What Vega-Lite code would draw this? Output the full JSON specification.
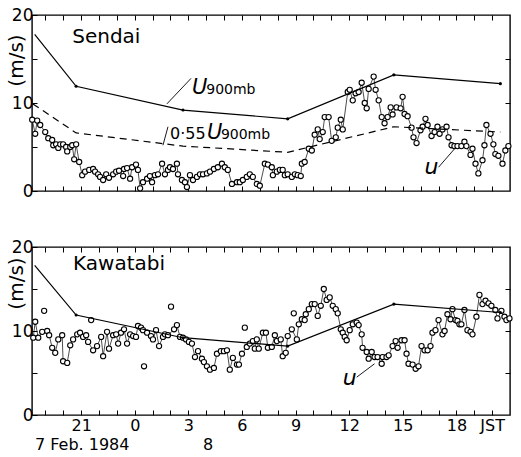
{
  "$schema": "https://vega.github.io/schema/vega-lite/v6.json",
  "background": "white",
  "padding": {"left": 5, "top": 5, "right": 5, "bottom": 5},
  "bounds": "flush",
  "spacing": 56,
  "config": {
    "font": "DejaVu Sans",
    "view": {"stroke": "black", "strokeWidth": 1.4},
    "axis": {"domain": false, "grid": false, "tickColor": "black", "tickWidth": 1, "labelColor": "black", "labelFont": "DejaVu Sans", "titleFont": "DejaVu Sans", "titleColor": "black", "titleFontWeight": "normal"}
  },
  "datasets": {
    "u900": [
      {"t": 18.4, "u": 17.8}, {"t": 20.72, "u": 11.9}, {"t": 26.7, "u": 9.2}, {"t": 32.56, "u": 8.2}, {"t": 38.5, "u": 13.2}, {"t": 44.46, "u": 12.2}
    ],
    "u055": [
      {"t": 18.3, "u": 9.9}, {"t": 20.72, "u": 6.6}, {"t": 26.7, "u": 5.1}, {"t": 32.56, "u": 4.4}, {"t": 38.5, "u": 7.3}, {"t": 44.46, "u": 6.7}
    ],
    "sendai": [
      {"t": 18.26, "u": 8.1}, {"t": 18.43, "u": 6.5}, {"t": 18.54, "u": 8.0}, {"t": 18.71, "u": 7.5}, {"t": 18.99, "u": 6.7},
      {"t": 19.16, "u": 6.0}, {"t": 19.38, "u": 5.8}, {"t": 19.44, "u": 5.2}, {"t": 19.6, "u": 5.3}, {"t": 19.72, "u": 4.9},
      {"t": 19.83, "u": 5.3}, {"t": 19.99, "u": 5.3}, {"t": 20.16, "u": 5.0}, {"t": 20.22, "u": 4.5}, {"t": 20.39, "u": 5.0},
      {"t": 20.5, "u": 5.2}, {"t": 20.61, "u": 3.6}, {"t": 20.72, "u": 5.3}, {"t": 20.89, "u": 3.3}, {"t": 21.06, "u": 1.8},
      {"t": 21.22, "u": 2.2}, {"t": 21.45, "u": 2.4}, {"t": 21.67, "u": 2.5}, {"t": 21.78, "u": 2.2}, {"t": 21.95, "u": 1.9},
      {"t": 22.06, "u": 1.6}, {"t": 22.23, "u": 1.25}, {"t": 22.4, "u": 1.9}, {"t": 22.56, "u": 1.5}, {"t": 22.79, "u": 1.9},
      {"t": 22.96, "u": 2.2}, {"t": 23.12, "u": 2.3}, {"t": 23.35, "u": 1.7}, {"t": 23.4, "u": 2.5}, {"t": 23.57, "u": 2.6},
      {"t": 23.74, "u": 1.4}, {"t": 23.85, "u": 2.7}, {"t": 24.07, "u": 3.0}, {"t": 24.18, "u": 2.4}, {"t": 24.3, "u": 0.3},
      {"t": 24.46, "u": 1.0}, {"t": 24.69, "u": 1.4}, {"t": 24.85, "u": 1.7}, {"t": 24.97, "u": 1.0}, {"t": 25.13, "u": 1.8},
      {"t": 25.3, "u": 1.9}, {"t": 25.53, "u": 3.1}, {"t": 25.69, "u": 1.9}, {"t": 25.86, "u": 2.4}, {"t": 25.97, "u": 2.7},
      {"t": 26.14, "u": 2.5}, {"t": 26.36, "u": 3.1}, {"t": 26.42, "u": 1.9}, {"t": 26.64, "u": 1.25}, {"t": 26.81, "u": 1.0},
      {"t": 26.92, "u": 0.45}, {"t": 27.09, "u": 1.8}, {"t": 27.26, "u": 1.25}, {"t": 27.48, "u": 1.6}, {"t": 27.65, "u": 1.9},
      {"t": 27.82, "u": 1.9}, {"t": 28.04, "u": 2.0}, {"t": 28.21, "u": 2.2}, {"t": 28.43, "u": 2.5}, {"t": 28.65, "u": 2.7},
      {"t": 28.88, "u": 3.1}, {"t": 29.04, "u": 2.7}, {"t": 29.21, "u": 2.4}, {"t": 29.44, "u": 0.8}, {"t": 29.72, "u": 1.0},
      {"t": 29.88, "u": 1.0}, {"t": 30.05, "u": 1.25}, {"t": 30.27, "u": 1.6}, {"t": 30.44, "u": 1.9}, {"t": 30.61, "u": 1.6},
      {"t": 30.83, "u": 0.8}, {"t": 31.0, "u": 0.6}, {"t": 31.28, "u": 3.1}, {"t": 31.45, "u": 3.0}, {"t": 31.67, "u": 2.7},
      {"t": 31.73, "u": 1.8}, {"t": 31.95, "u": 2.2}, {"t": 32.12, "u": 2.4}, {"t": 32.28, "u": 2.4}, {"t": 32.4, "u": 1.8},
      {"t": 32.56, "u": 1.9}, {"t": 32.79, "u": 1.6}, {"t": 32.96, "u": 1.9}, {"t": 33.12, "u": 1.8}, {"t": 33.29, "u": 1.7},
      {"t": 33.35, "u": 3.1}, {"t": 33.51, "u": 3.3}, {"t": 33.74, "u": 4.8}, {"t": 33.91, "u": 4.6}, {"t": 34.07, "u": 6.4},
      {"t": 34.24, "u": 7.0}, {"t": 34.35, "u": 5.9}, {"t": 34.52, "u": 6.7}, {"t": 34.63, "u": 8.4}, {"t": 34.85, "u": 8.4},
      {"t": 35.02, "u": 5.7}, {"t": 35.25, "u": 6.1}, {"t": 35.36, "u": 7.2}, {"t": 35.53, "u": 8.1}, {"t": 35.64, "u": 7.0},
      {"t": 35.92, "u": 11.25}, {"t": 36.03, "u": 11.5}, {"t": 36.2, "u": 10.3}, {"t": 36.36, "u": 11.1}, {"t": 36.53, "u": 11.25},
      {"t": 36.7, "u": 12.3}, {"t": 36.87, "u": 10.0}, {"t": 36.98, "u": 9.4}, {"t": 37.09, "u": 11.6}, {"t": 37.37, "u": 13.0},
      {"t": 37.48, "u": 11.5}, {"t": 37.65, "u": 10.3}, {"t": 37.82, "u": 8.4}, {"t": 37.98, "u": 7.7}, {"t": 38.15, "u": 8.4},
      {"t": 38.32, "u": 9.5}, {"t": 38.43, "u": 8.7}, {"t": 38.65, "u": 9.5}, {"t": 38.88, "u": 9.4}, {"t": 38.99, "u": 10.7},
      {"t": 39.1, "u": 8.75}, {"t": 39.27, "u": 8.5}, {"t": 39.49, "u": 7.2}, {"t": 39.6, "u": 6.1}, {"t": 39.77, "u": 5.45},
      {"t": 39.99, "u": 6.9}, {"t": 40.11, "u": 7.3}, {"t": 40.27, "u": 8.2}, {"t": 40.39, "u": 7.5}, {"t": 40.61, "u": 6.25},
      {"t": 40.78, "u": 6.7}, {"t": 40.94, "u": 7.3}, {"t": 41.06, "u": 6.5}, {"t": 41.22, "u": 7.0}, {"t": 41.45, "u": 7.3},
      {"t": 41.56, "u": 6.1}, {"t": 41.73, "u": 5.2}, {"t": 41.89, "u": 5.1}, {"t": 42.06, "u": 5.1}, {"t": 42.28, "u": 5.1},
      {"t": 42.45, "u": 5.6}, {"t": 42.56, "u": 5.1}, {"t": 42.79, "u": 4.1}, {"t": 42.9, "u": 4.8}, {"t": 43.07, "u": 3.1},
      {"t": 43.23, "u": 2.0}, {"t": 43.46, "u": 3.5}, {"t": 43.57, "u": 5.2}, {"t": 43.68, "u": 7.5}, {"t": 43.91, "u": 6.5},
      {"t": 44.07, "u": 5.3}, {"t": 44.18, "u": 4.2}, {"t": 44.35, "u": 4.0}, {"t": 44.58, "u": 3.1}, {"t": 44.74, "u": 4.6},
      {"t": 44.91, "u": 5.1}
    ],
    "kawatabi": [
      {"t": 18.32, "u": 9.2}, {"t": 18.43, "u": 11.1}, {"t": 18.6, "u": 9.2}, {"t": 18.82, "u": 9.9}, {"t": 18.93, "u": 12.4, "iso": 1},
      {"t": 19.1, "u": 10.0}, {"t": 19.21, "u": 9.5}, {"t": 19.38, "u": 8.0}, {"t": 19.55, "u": 7.4}, {"t": 19.72, "u": 9.0},
      {"t": 19.94, "u": 9.5}, {"t": 19.99, "u": 6.4}, {"t": 20.22, "u": 6.2}, {"t": 20.39, "u": 8.3}, {"t": 20.55, "u": 9.0},
      {"t": 20.78, "u": 9.6}, {"t": 20.94, "u": 9.8}, {"t": 21.11, "u": 9.3}, {"t": 21.28, "u": 9.5}, {"t": 21.39, "u": 8.7},
      {"t": 21.56, "u": 11.3, "iso": 1}, {"t": 21.67, "u": 7.7}, {"t": 21.89, "u": 8.2}, {"t": 22.12, "u": 9.3}, {"t": 22.23, "u": 7.0},
      {"t": 22.45, "u": 9.9}, {"t": 22.56, "u": 7.9}, {"t": 22.79, "u": 9.5}, {"t": 22.96, "u": 9.6}, {"t": 23.07, "u": 8.5},
      {"t": 23.23, "u": 9.8}, {"t": 23.4, "u": 10.2}, {"t": 23.57, "u": 8.5}, {"t": 23.74, "u": 9.6}, {"t": 23.91, "u": 9.4},
      {"t": 24.07, "u": 9.3}, {"t": 24.18, "u": 10.6}, {"t": 24.35, "u": 10.4}, {"t": 24.46, "u": 10.1}, {"t": 24.52, "u": 5.8, "iso": 1},
      {"t": 24.69, "u": 9.8}, {"t": 24.91, "u": 9.4}, {"t": 25.02, "u": 9.0}, {"t": 25.19, "u": 10.1}, {"t": 25.36, "u": 8.2},
      {"t": 25.58, "u": 9.3}, {"t": 25.69, "u": 9.6}, {"t": 25.86, "u": 9.5}, {"t": 26.03, "u": 12.9, "iso": 1}, {"t": 26.2, "u": 10.2},
      {"t": 26.36, "u": 10.7}, {"t": 26.53, "u": 9.3}, {"t": 26.7, "u": 9.2}, {"t": 26.87, "u": 9.0}, {"t": 27.03, "u": 8.7},
      {"t": 27.2, "u": 8.5}, {"t": 27.37, "u": 6.9}, {"t": 27.54, "u": 7.6}, {"t": 27.76, "u": 6.7}, {"t": 27.87, "u": 6.3},
      {"t": 28.04, "u": 5.8}, {"t": 28.21, "u": 5.4}, {"t": 28.43, "u": 5.6}, {"t": 28.6, "u": 7.3}, {"t": 28.82, "u": 7.6},
      {"t": 28.99, "u": 7.6}, {"t": 29.16, "u": 7.7}, {"t": 29.32, "u": 5.4}, {"t": 29.49, "u": 6.8}, {"t": 29.72, "u": 6.0},
      {"t": 29.83, "u": 6.0}, {"t": 30.0, "u": 7.3}, {"t": 30.16, "u": 10.4, "iso": 1}, {"t": 30.27, "u": 8.1}, {"t": 30.44, "u": 8.5},
      {"t": 30.61, "u": 8.8}, {"t": 30.72, "u": 7.9}, {"t": 30.83, "u": 9.0}, {"t": 30.94, "u": 7.9}, {"t": 31.17, "u": 9.8},
      {"t": 31.34, "u": 9.8}, {"t": 31.45, "u": 8.0}, {"t": 31.67, "u": 8.1}, {"t": 31.84, "u": 9.5}, {"t": 31.95, "u": 8.8},
      {"t": 32.17, "u": 9.0}, {"t": 32.28, "u": 7.0}, {"t": 32.45, "u": 7.4}, {"t": 32.56, "u": 9.4}, {"t": 32.79, "u": 10.2},
      {"t": 32.9, "u": 12.1, "iso": 1}, {"t": 33.07, "u": 9.0}, {"t": 33.18, "u": 10.8}, {"t": 33.35, "u": 11.4}, {"t": 33.51, "u": 11.3},
      {"t": 33.57, "u": 12.0}, {"t": 33.74, "u": 12.6}, {"t": 33.91, "u": 13.2}, {"t": 34.07, "u": 13.2}, {"t": 34.24, "u": 11.8},
      {"t": 34.41, "u": 13.0}, {"t": 34.58, "u": 15.0}, {"t": 34.74, "u": 13.7}, {"t": 34.91, "u": 14.0}, {"t": 35.08, "u": 13.0},
      {"t": 35.25, "u": 12.6}, {"t": 35.36, "u": 12.1}, {"t": 35.53, "u": 10.2}, {"t": 35.64, "u": 9.8}, {"t": 35.75, "u": 9.3},
      {"t": 35.86, "u": 8.9}, {"t": 36.03, "u": 10.1}, {"t": 36.2, "u": 10.8}, {"t": 36.42, "u": 11.0}, {"t": 36.53, "u": 10.7},
      {"t": 36.7, "u": 9.6}, {"t": 36.75, "u": 8.0}, {"t": 36.98, "u": 7.5}, {"t": 37.09, "u": 6.7}, {"t": 37.26, "u": 7.5},
      {"t": 37.42, "u": 6.9}, {"t": 37.59, "u": 6.9}, {"t": 37.82, "u": 6.1}, {"t": 37.87, "u": 6.9}, {"t": 38.09, "u": 6.9},
      {"t": 38.21, "u": 7.1}, {"t": 38.43, "u": 8.2}, {"t": 38.6, "u": 8.8}, {"t": 38.71, "u": 8.0}, {"t": 38.93, "u": 8.9},
      {"t": 39.1, "u": 8.9}, {"t": 39.21, "u": 7.3}, {"t": 39.32, "u": 6.1}, {"t": 39.55, "u": 6.0}, {"t": 39.72, "u": 5.5},
      {"t": 39.88, "u": 5.8}, {"t": 40.05, "u": 8.2}, {"t": 40.22, "u": 7.7}, {"t": 40.39, "u": 7.7}, {"t": 40.55, "u": 8.2},
      {"t": 40.66, "u": 9.8}, {"t": 40.83, "u": 10.1}, {"t": 41.0, "u": 11.3}, {"t": 41.22, "u": 9.6}, {"t": 41.34, "u": 10.0},
      {"t": 41.5, "u": 12.0}, {"t": 41.67, "u": 11.4}, {"t": 41.78, "u": 12.6}, {"t": 41.95, "u": 11.3}, {"t": 42.06, "u": 11.2},
      {"t": 42.17, "u": 10.8}, {"t": 42.28, "u": 10.8}, {"t": 42.45, "u": 12.5}, {"t": 42.62, "u": 10.1}, {"t": 42.79, "u": 9.9},
      {"t": 42.9, "u": 9.6}, {"t": 43.12, "u": 11.7}, {"t": 43.29, "u": 14.3}, {"t": 43.46, "u": 13.2}, {"t": 43.63, "u": 13.6},
      {"t": 43.8, "u": 13.3}, {"t": 43.96, "u": 13.0}, {"t": 44.18, "u": 12.5}, {"t": 44.3, "u": 11.5}, {"t": 44.52, "u": 12.4},
      {"t": 44.69, "u": 11.7}, {"t": 44.8, "u": 11.3}, {"t": 44.97, "u": 11.5}
    ]
  },
  "vconcat": [
    {
      "width": 478,
      "height": 176,
      "layer": [
        {
          "data": {"name": "sendai"},
          "mark": {"type": "line", "color": "black", "strokeWidth": 0.7},
          "encoding": {
            "x": {"field": "t", "type": "quantitative", "scale": {"domain": [18.25, 45], "nice": false, "zero": false},
                  "axis": {"orient": "bottom", "values": [19,20,21,22,23,24,25,26,27,28,29,30,31,32,33,34,35,36,37,38,39,40,41,42,43,44], "labels": false, "tickSize": -5, "title": null}},
            "y": {"field": "u", "type": "quantitative", "scale": {"domain": [0, 20], "nice": false},
                  "axis": {"orient": "left", "values": [0,5,10,15,20], "labelExpr": "datum.value % 10 == 0 ? datum.label : ''", "labelFontSize": 17, "labelPadding": 4, "tickSize": -5, "title": "(m/s)", "titleFontSize": 20, "titleAngle": 270, "titleBaseline": "middle", "titleAlign": "center", "titleX": -16, "titleY": 45}}
          }
        },
        {
          "data": {"name": "sendai"},
          "mark": {"type": "point", "shape": "circle", "filled": true, "fill": "white", "stroke": "black", "strokeWidth": 1.1, "size": 27, "opacity": 1},
          "encoding": {
            "x": {"field": "t", "type": "quantitative", "axis": {"orient": "top", "values": [19,20,21,22,23,24,25,26,27,28,29,30,31,32,33,34,35,36,37,38,39,40,41,42,43,44], "labels": false, "tickSize": -5, "title": null}},
            "y": {"field": "u", "type": "quantitative", "axis": {"orient": "right", "values": [5,10,15], "labels": false, "tickSize": -5, "title": null}}
          }
        },
        {
          "data": {"name": "u900"},
          "mark": {"type": "line", "color": "black", "strokeWidth": 1.2},
          "encoding": {"x": {"field": "t", "type": "quantitative", "axis": null}, "y": {"field": "u", "type": "quantitative", "axis": null}}
        },
        {
          "data": {"name": "u900"},
          "transform": [{"filter": "datum.t > 19"}],
          "mark": {"type": "point", "shape": "circle", "filled": true, "color": "black", "size": 10, "opacity": 1},
          "encoding": {"x": {"field": "t", "type": "quantitative", "axis": null}, "y": {"field": "u", "type": "quantitative", "axis": null}}
        },
        {
          "data": {"name": "u055"},
          "mark": {"type": "line", "color": "black", "strokeWidth": 1.2, "strokeDash": [7, 5]},
          "encoding": {"x": {"field": "t", "type": "quantitative", "axis": null}, "y": {"field": "u", "type": "quantitative", "axis": null}}
        },
        {
          "data": {"values": [{"t": 20.5, "u": 17.5, "label": "Sendai"}]},
          "mark": {"type": "text", "align": "left", "baseline": "middle", "fontSize": 20, "color": "black"},
          "encoding": {"x": {"field": "t", "type": "quantitative", "axis": null}, "y": {"field": "u", "type": "quantitative", "axis": null}, "text": {"field": "label"}}
        },
        {
          "data": {"values": [{"t": 27.2, "u": 11.0, "label": "U"}, {"t": 28.04, "u": 5.9, "label": "U"}]},
          "mark": {"type": "text", "align": "left", "baseline": "alphabetic", "fontSize": 21, "fontStyle": "italic", "color": "black"},
          "encoding": {"x": {"field": "t", "type": "quantitative", "axis": null}, "y": {"field": "u", "type": "quantitative", "axis": null}, "text": {"field": "label"}}
        },
        {
          "data": {"values": [{"t": 28.0, "u": 11.0, "label": "900mb"}, {"t": 28.82, "u": 5.9, "label": "900mb"}]},
          "mark": {"type": "text", "align": "left", "baseline": "alphabetic", "fontSize": 14, "color": "black"},
          "encoding": {"x": {"field": "t", "type": "quantitative", "axis": null}, "y": {"field": "u", "type": "quantitative", "axis": null}, "text": {"field": "label"}}
        },
        {
          "data": {"values": [{"t": 25.97, "u": 5.9, "label": "0·55"}]},
          "mark": {"type": "text", "align": "left", "baseline": "alphabetic", "fontSize": 16, "color": "black"},
          "encoding": {"x": {"field": "t", "type": "quantitative", "axis": null}, "y": {"field": "u", "type": "quantitative", "axis": null}, "text": {"field": "label"}}
        },
        {
          "data": {"values": [{"t": 40.22, "u": 1.9, "label": "u"}]},
          "mark": {"type": "text", "align": "left", "baseline": "alphabetic", "fontSize": 22, "fontStyle": "italic", "color": "black"},
          "encoding": {"x": {"field": "t", "type": "quantitative", "axis": null}, "y": {"field": "u", "type": "quantitative", "axis": null}, "text": {"field": "label"}}
        },
        {
          "data": {"values": [
            {"t": 25.8, "u": 9.9, "t2": 27.15, "u2": 12.8},
            {"t": 25.58, "u": 5.2, "t2": 25.86, "u2": 7.3},
            {"t": 41.0, "u": 2.7, "t2": 41.9, "u2": 4.8}
          ]},
          "mark": {"type": "rule", "color": "black", "strokeWidth": 0.9},
          "encoding": {"x": {"field": "t", "type": "quantitative", "axis": null}, "y": {"field": "u", "type": "quantitative", "axis": null}, "x2": {"field": "t2"}, "y2": {"field": "u2"}}
        }
      ],
      "resolve": {"axis": {"x": "independent", "y": "independent"}}
    },
    {
      "width": 478,
      "height": 168,
      "layer": [
        {
          "data": {"name": "kawatabi"},
          "transform": [{"filter": "!datum.iso"}],
          "mark": {"type": "line", "color": "black", "strokeWidth": 0.7},
          "encoding": {
            "x": {"field": "t", "type": "quantitative", "scale": {"domain": [18.25, 45], "nice": false, "zero": false},
                  "axis": {"orient": "bottom", "values": [19,20,21,22,23,24,25,26,27,28,29,30,31,32,33,34,35,36,37,38,39,40,41,42,43,44], "labelExpr": "datum.value == 44 ? 'JST' : (datum.value % 3 == 0 ? '' + (datum.value % 24) : '')", "labelFontSize": 16, "labelPadding": 7, "labelFlush": false, "labelOverlap": false, "labelBaseline": "top", "tickSize": -5, "title": null}},
            "y": {"field": "u", "type": "quantitative", "scale": {"domain": [0, 20], "nice": false},
                  "axis": {"orient": "left", "values": [0,5,10,15,20], "labelExpr": "datum.value % 10 == 0 ? datum.label : ''", "labelFontSize": 17, "labelPadding": 4, "tickSize": -5, "title": "(m/s)", "titleFontSize": 20, "titleAngle": 270, "titleBaseline": "middle", "titleAlign": "center", "titleX": -16, "titleY": 36}}
          }
        },
        {
          "data": {"name": "kawatabi"},
          "mark": {"type": "point", "shape": "circle", "filled": true, "fill": "white", "stroke": "black", "strokeWidth": 1.1, "size": 27, "opacity": 1},
          "encoding": {
            "x": {"field": "t", "type": "quantitative", "axis": {"orient": "top", "values": [19,20,21,22,23,24,25,26,27,28,29,30,31,32,33,34,35,36,37,38,39,40,41,42,43,44], "labels": false, "tickSize": -5, "title": null}},
            "y": {"field": "u", "type": "quantitative", "axis": {"orient": "right", "values": [5,10,15], "labels": false, "tickSize": -5, "title": null}}
          }
        },
        {
          "data": {"name": "u900"},
          "mark": {"type": "line", "color": "black", "strokeWidth": 1.2},
          "encoding": {"x": {"field": "t", "type": "quantitative", "axis": null}, "y": {"field": "u", "type": "quantitative", "axis": null}}
        },
        {
          "data": {"name": "u900"},
          "transform": [{"filter": "datum.t > 19"}],
          "mark": {"type": "point", "shape": "circle", "filled": true, "color": "black", "size": 10, "opacity": 1},
          "encoding": {"x": {"field": "t", "type": "quantitative", "axis": null}, "y": {"field": "u", "type": "quantitative", "axis": null}}
        },
        {
          "data": {"values": [{"t": 20.55, "u": 18.0, "label": "Kawatabi"}]},
          "mark": {"type": "text", "align": "left", "baseline": "middle", "fontSize": 20, "color": "black"},
          "encoding": {"x": {"field": "t", "type": "quantitative", "axis": null}, "y": {"field": "u", "type": "quantitative", "axis": null}, "text": {"field": "label"}}
        },
        {
          "data": {"values": [{"t": 35.64, "u": 3.6, "label": "u"}]},
          "mark": {"type": "text", "align": "left", "baseline": "alphabetic", "fontSize": 22, "fontStyle": "italic", "color": "black"},
          "encoding": {"x": {"field": "t", "type": "quantitative", "axis": null}, "y": {"field": "u", "type": "quantitative", "axis": null}, "text": {"field": "label"}}
        },
        {
          "data": {"values": [{"t": 36.42, "u": 4.5, "t2": 37.42, "u2": 6.1}]},
          "mark": {"type": "rule", "color": "black", "strokeWidth": 0.9},
          "encoding": {"x": {"field": "t", "type": "quantitative", "axis": null}, "y": {"field": "u", "type": "quantitative", "axis": null}, "x2": {"field": "t2"}, "y2": {"field": "u2"}}
        },
        {
          "data": {"values": [{"t": 21.06, "u": -3.6, "label": "7 Feb. 1984"}, {"t": 28.1, "u": -3.6, "label": "8"}]},
          "mark": {"type": "text", "align": "center", "baseline": "middle", "fontSize": 16, "color": "black"},
          "encoding": {"x": {"field": "t", "type": "quantitative", "axis": null}, "y": {"field": "u", "type": "quantitative", "axis": null}, "text": {"field": "label"}}
        }
      ],
      "resolve": {"axis": {"x": "independent", "y": "independent"}}
    }
  ]
}
